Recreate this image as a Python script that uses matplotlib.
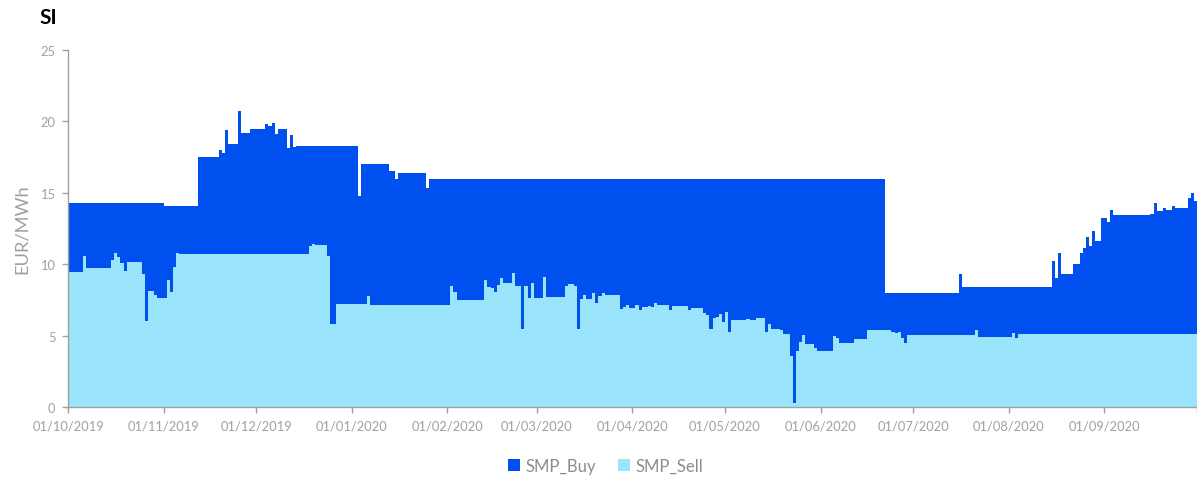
import numpy as np
import pandas as pd
import matplotlib
matplotlib.use("Agg")
import matplotlib.pyplot as plt
from matplotlib.patches import Patch

plt.rcParams['font.family'] = ['Lato', 'DejaVu Sans']

start_date = "2019-10-01"
end_date = "2020-10-01"

# (number of days, EUR/MWh) runs, day by day from 01/10/2019
smp_buy_runs = [
    (31, 14.3), (11, 14.1), (7, 17.5), (1, 18.0), (1, 17.8), (1, 19.4), (3, 18.4),
    (1, 20.7), (3, 19.2), (5, 19.45), (1, 19.8), (1, 19.7), (1, 19.9), (1, 19.1),
    (3, 19.5), (1, 18.15), (1, 19.05), (1, 18.2), (20, 18.3), (1, 14.8), (9, 17.0),
    (2, 16.5), (1, 16.0), (9, 16.4), (1, 15.35), (148, 16.0), (24, 8.0), (1, 9.3),
    (29, 8.4), (1, 10.25), (1, 9.0), (1, 10.75), (4, 9.3), (2, 10.0), (1, 10.8),
    (1, 11.1), (1, 11.9), (1, 11.25), (1, 12.3), (2, 11.65), (2, 13.2), (1, 12.95),
    (1, 13.8), (12, 13.45), (1, 13.5), (1, 14.25), (2, 13.75), (1, 13.9), (2, 13.8),
    (1, 14.05), (4, 13.9), (1, 14.65), (1, 14.95), (1, 14.45),
]

smp_sell_runs = [
    (5, 9.45), (1, 10.55), (8, 9.73), (1, 10.29), (1, 10.76), (1, 10.53), (1, 10.06),
    (1, 9.5), (5, 10.15), (1, 9.31), (1, 6.0), (2, 8.12), (1, 7.84), (3, 7.63),
    (1, 8.89), (1, 8.03), (1, 9.78), (1, 10.78), (42, 10.69), (1, 11.3), (1, 11.41),
    (4, 11.32), (1, 10.6), (2, 5.79), (10, 7.24), (1, 7.75),
    (26, 7.12), (1, 8.45), (1, 8.05), (9, 7.52), (1, 8.9), (1, 8.4), (1, 8.3),
    (1, 8.05), (1, 8.55), (1, 9.0), (3, 8.65), (1, 9.35), (2, 8.5), (1, 5.45),
    (1, 8.45), (1, 7.65), (1, 8.7), (3, 7.65), (1, 9.1), (6, 7.7), (1, 8.45),
    (2, 8.6), (1, 8.5), (1, 5.45), (1, 7.55), (1, 7.85), (2, 7.55), (1, 7.95),
    (1, 7.25), (1, 7.8), (1, 7.95), (5, 7.87), (1, 6.85), (1, 7.0), (1, 7.15),
    (2, 6.9),
    (1, 7.15), (1, 6.82), (2, 7.0), (1, 7.1), (1, 7.0), (1, 7.26), (1, 7.16),
    (3, 7.12), (1, 6.77), (5, 7.05), (1, 6.77), (4, 6.93), (1, 6.56), (1, 6.42),
    (1, 5.46), (1, 6.23), (1, 6.33), (1, 6.49), (1, 5.93), (1, 6.63), (1, 5.23),
    (5, 6.09), (1, 6.18), (2, 6.09), (3, 6.21), (1, 5.27), (1, 5.83), (3, 5.46),
    (1, 5.39), (2, 5.09), (1, 3.55), (1, 0.25), (1, 3.92), (1, 4.56), (1, 5.01),
    (3, 4.4), (1, 4.15), (5, 3.95), (1, 5.0), (1, 4.81), (5, 4.5), (4, 4.76),
    (8, 5.41), (1, 5.23), (1, 5.16), (1, 5.23), (1, 4.83), (1, 4.5), (22, 5.02),
    (1, 5.39), (11, 4.88), (1, 5.18), (1, 4.83), (58, 5.09),
]

y_ticks = [0, 5, 10, 15, 20, 25]

buy_color = "#0050EF"
sell_color = "#9BE5FC"
grey = "#A0A0A0"


def expand(runs):
    return np.concatenate([np.full(n, v) for n, v in runs])


smp_buy = expand(smp_buy_runs)
smp_sell = expand(smp_sell_runs)
days = np.arange(len(smp_buy))

fig = plt.figure(figsize=(11.97, 4.81), dpi=100)
ax = fig.add_axes([0.0568, 0.1518, 0.943, 0.7422])

ax.bar(days, smp_buy, width=1.0, align="edge", color=buy_color, linewidth=0, antialiased=False)
ax.bar(days, smp_sell, width=1.0, align="edge", color=sell_color, linewidth=0, antialiased=False)

month_starts = pd.date_range(start_date, end_date, freq="MS")
tick_pos = (month_starts - pd.Timestamp(start_date)).days
tick_labels = [d.strftime("%d/%m/%Y") for d in month_starts]
tick_labels[-1] = ""

ax.set_xlim(0, len(smp_buy))
ax.set_ylim(0, 25)
ax.set_xticks(tick_pos)
ax.set_xticklabels(tick_labels)
ax.set_yticks(y_ticks)

for side in ["top", "right"]:
    ax.spines[side].set_visible(False)
for side in ["left", "bottom"]:
    ax.spines[side].set_color(grey)
    ax.spines[side].set_linewidth(1.0)

ax.tick_params(axis="both", colors=grey, labelcolor=grey, labelsize=9.3, length=4, width=1.0)
ax.tick_params(axis="y", pad=5)
ax.tick_params(axis="x", pad=5)

ax.set_ylabel("EUR/MWh", color=grey, fontsize=13.2, labelpad=8)

fig.text(0.033, 0.962, "SI", fontsize=15, fontweight="bold", color="black", va="center", ha="left")

handles = [Patch(facecolor=buy_color, label="SMP_Buy"), Patch(facecolor=sell_color, label="SMP_Sell")]
fig.legend(handles=handles, loc="center", bbox_to_anchor=(0.506, 0.029), ncol=2, frameon=False,
           fontsize=12, labelcolor="#8C8C8C", handlelength=0.7, handleheight=0.7,
           handletextpad=0.35, columnspacing=1.3)

fig.savefig("out.png", dpi=100)
